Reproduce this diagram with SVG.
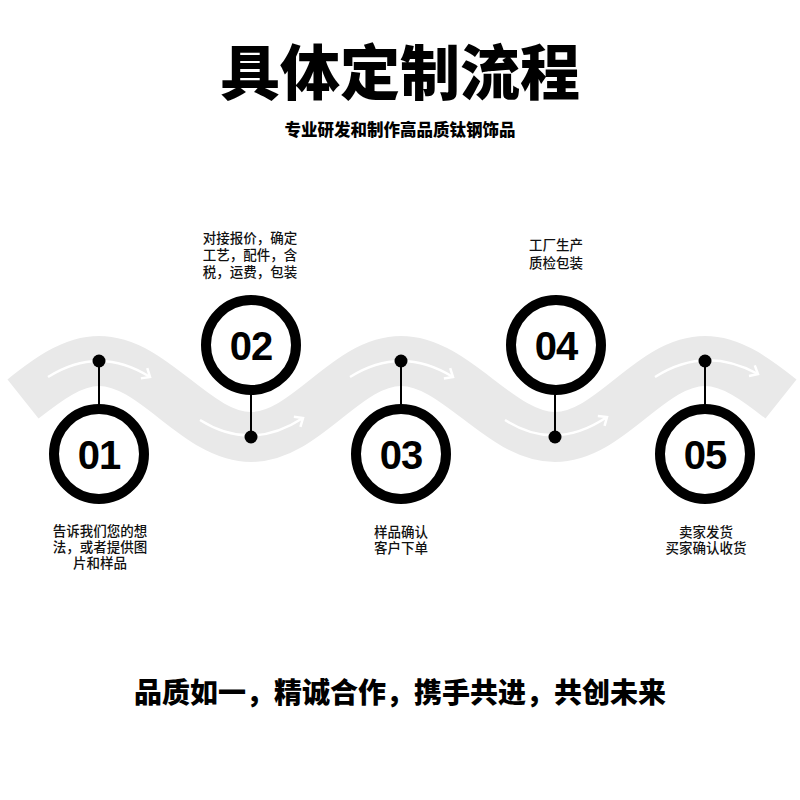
<svg xmlns="http://www.w3.org/2000/svg" width="800" height="800" viewBox="0 0 800 800">
<defs>
<style>
.title{font-family:"Noto Sans CJK SC","Noto Sans",sans-serif;font-weight:900;fill:#000;text-anchor:middle}
.lbl{font-family:"Noto Sans CJK SC","Noto Sans",sans-serif;font-weight:500;font-size:13.5px;fill:#111;text-anchor:middle}
.ring{fill:#fff;stroke:#000;stroke-width:10}
.num{font-family:"Liberation Sans",Arial,sans-serif;font-weight:bold;font-size:40px;fill:#000;text-anchor:middle;letter-spacing:-1px}
.stem{stroke:#000;stroke-width:2}
.dot{fill:#000}
.arr{fill:none;stroke:#fff;stroke-width:2.5;marker-end:url(#ah)}
</style>
<marker id="ah" markerUnits="userSpaceOnUse" markerWidth="16" markerHeight="16" refX="0" refY="0" viewBox="-10 -8 12 16" orient="auto">
<path d="M-7,-6 L0,0 L-7,6" fill="none" stroke="#fff" stroke-width="2.5"/>
</marker>
</defs>
<rect width="800" height="800" fill="#fff"/>
<text class="title" x="400" y="95" font-size="60">具体定制流程</text>
<text class="title" x="400" y="136" font-size="16.5" font-weight="800">专业研发和制作高品质钛钢饰品</text>
<g id="band">
<path d="M23,399 C47,380 72,361 99,361 C154,361 196,437 251,437 C306,437 346,361 401,361 C456,361 500,437 555,437 C610,437 650,361 705,361 C732,361 757,380 781,399" fill="none" stroke="#e9e9e9" stroke-width="50"/>
</g>
<g id="connectors">
<path class="arr" d="M48,377 Q99,345 150,377"/>
<path class="arr" d="M200,420 Q251,452 303,418"/>
<path class="arr" d="M350,377 Q401,345 453,377"/>
<path class="arr" d="M505,420 Q555,452 607,417"/>
<path class="arr" d="M655,377 Q705,345 758,374"/>
<line class="stem" x1="99" y1="361" x2="99" y2="405"/>
<line class="stem" x1="251" y1="393" x2="251" y2="437"/>
<line class="stem" x1="401" y1="361" x2="401" y2="405"/>
<line class="stem" x1="555" y1="393" x2="555" y2="437"/>
<line class="stem" x1="705" y1="361" x2="705" y2="405"/>
<circle class="dot" cx="99" cy="361" r="6.5"/>
<circle class="dot" cx="251" cy="437" r="6.5"/>
<circle class="dot" cx="401" cy="361" r="6.5"/>
<circle class="dot" cx="555" cy="437" r="6.5"/>
<circle class="dot" cx="705" cy="361" r="6.5"/>
</g>
<g id="step01">
<circle class="ring" cx="99" cy="454" r="45"/>
<text class="num" x="99" y="469">01</text>
<text class="lbl" x="100" y="536">告诉我们您的想</text>
<text class="lbl" x="100" y="552">法，或者提供图</text>
<text class="lbl" x="100" y="568">片和样品</text>
</g>
<g id="step02">
<circle class="ring" cx="251" cy="345" r="45"/>
<text class="num" x="251" y="360">02</text>
<text class="lbl" x="250" y="243">对接报价，确定</text>
<text class="lbl" x="250" y="260">工艺，配件，含</text>
<text class="lbl" x="250" y="277">税，运费，包装</text>
</g>
<g id="step03">
<circle class="ring" cx="401" cy="454" r="45"/>
<text class="num" x="401" y="469">03</text>
<text class="lbl" x="401" y="537">样品确认</text>
<text class="lbl" x="401" y="553">客户下单</text>
</g>
<g id="step04">
<circle class="ring" cx="556" cy="345" r="45"/>
<text class="num" x="556" y="360">04</text>
<text class="lbl" x="556" y="250">工厂生产</text>
<text class="lbl" x="556" y="268">质检包装</text>
</g>
<g id="step05">
<circle class="ring" cx="705" cy="454" r="45"/>
<text class="num" x="705" y="469">05</text>
<text class="lbl" x="706" y="537">卖家发货</text>
<text class="lbl" x="706" y="553">买家确认收货</text>
</g>
<text class="title" x="400" y="703" font-size="28">品质如一，精诚合作，携手共进，共创未来</text>
</svg>
